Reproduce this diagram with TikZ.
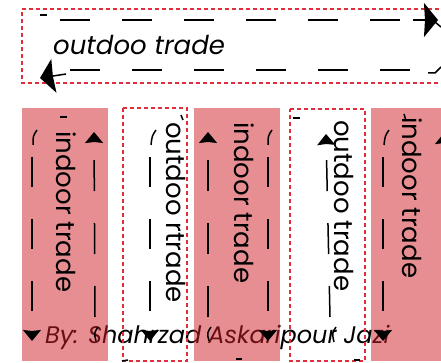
\documentclass[tikz,border=0pt]{standalone}
\usepackage{fontspec}
\setmainfont{Poppins}
\usetikzlibrary{arrows.meta}
\definecolor{boxred}{RGB}{209,31,39}
\definecolor{dashred}{RGB}{225,45,55}
\begin{document}
\begin{tikzpicture}[x=1pt,y=-1pt,
  lbl/.style={inner sep=0pt, text=black, font=\fontsize{26}{30}\selectfont},
  itlbl/.style={lbl, font=\fontsize{26}{30}\selectfont\itshape},
  pinkcol/.style={fill=boxred, fill opacity=0.5, draw=none},
  redbox/.style={draw=dashred, line width=1.1pt, dash pattern=on 4pt off 3pt},
  flow/.style={line width=1.5pt, dash pattern=on 30pt off 32pt},
  flowup/.style={line width=1.5pt, dash pattern=on 31pt off 32pt},
  tick/.style={line width=1.5pt},
  smallhead/.style={-{Stealth[length=11pt,width=18pt,inset=1pt,fill=black]}},
  bighead/.style={-{Stealth[length=14pt,width=34pt,inset=1pt,fill=black]}},
]
\useasboundingbox (0,0) rectangle (441,363);
\fill[white] (0,0) rectangle (441,363);

% signature (under the translucent columns)
\node[itlbl, font=\fontsize{24}{30}\selectfont\itshape, anchor=base west] (by) at (45,343) {By: Shahrzad Askaripour Jazi};

% translucent columns
\fill[pinkcol] (22,108) rectangle (108,361);
\fill[pinkcol] (194,108) rectangle (280,361);
\fill[pinkcol] (371,108) rectangle (460,361);

% dashed outline boxes
\draw[redbox] (460,9) -- (22,9) -- (22,83) -- (460,83);
\draw[redbox] (123,108) -- (187,108) -- (187,361) -- (123,361) -- cycle;
\draw[redbox] (290,109) -- (365,109) -- (365,361) -- (290,361) -- cycle;

% texts
\node[itlbl, anchor=base west] (top) at (53,55) {outdoo trade};
\node[lbl, rotate=-90, anchor=base west] (c1) at (56,131) {indoor trade};
\node[lbl, rotate=-90, anchor=base west] (c2) at (166,122) {outdoo rtrade};
\node[lbl, rotate=-90, anchor=base west] (c3) at (234,122) {indoor trade};
\node[lbl, rotate=-90, anchor=base west] (c4) at (334,120) {outdoo trade};
\node[lbl, rotate=-90, anchor=base west] (c5) at (402,117) {indoor trade};

% top box: upper arrow to the right
\draw[tick] (40,15) -- (47,15);
\draw[flow, bighead] (60,20) -- (438,20);
\draw[tick] (413,20) -- (426,20);
\draw[tick] (435,22) -- (441,27);
% top box: lower arrow to the left
\draw[tick] (428,73) -- (435,73) -- (441,67);
\draw[flow] (410,70) -- (70,70);
\draw[tick, bighead] (66,74) -- (40,78);

% column 1
\draw[tick] (37,130) .. controls (33,136) .. (33,145);
\draw[flow, smallhead] (32,157) -- (32,341);
\draw[tick] (98,327) .. controls (94,333) .. (96,341);
\draw[flowup, smallhead] (95,317) -- (94,132);
\draw[tick] (60,117) -- (67,117);

% column 2
\draw[tick] (156,130) .. controls (152,136) .. (151,145);
\draw[flow, smallhead] (150,157) -- (150,341);
\draw[tick] (181,115) -- (183,120);
\draw[tick] (122,361) -- (128,360);

% column 3
\draw[tick] (211,327) .. controls (207,333) .. (209,341);
\draw[flowup, smallhead] (208,317) -- (208,132);
\draw[tick] (272,130) .. controls (268,136) .. (268,145);
\draw[flow, smallhead] (268,157) -- (268,341);
\draw[tick] (236,359) -- (242,359);

% column 4
\draw[tick] (336,327) .. controls (332,333) .. (334,342);
\draw[flowup, smallhead] (330,317) -- (326,134);
\draw[tick] (293,118) -- (300,118);
\draw[tick] (354,360) -- (360,360);

% column 5
\draw[tick] (389,130) .. controls (385,136) .. (384,145);
\draw[flow, smallhead] (383,157) -- (383,341);
\draw[flowup, smallhead] (445,317) -- (444,133);
\draw[tick] (404,114) -- (406,121);
\end{tikzpicture}
\end{document}
